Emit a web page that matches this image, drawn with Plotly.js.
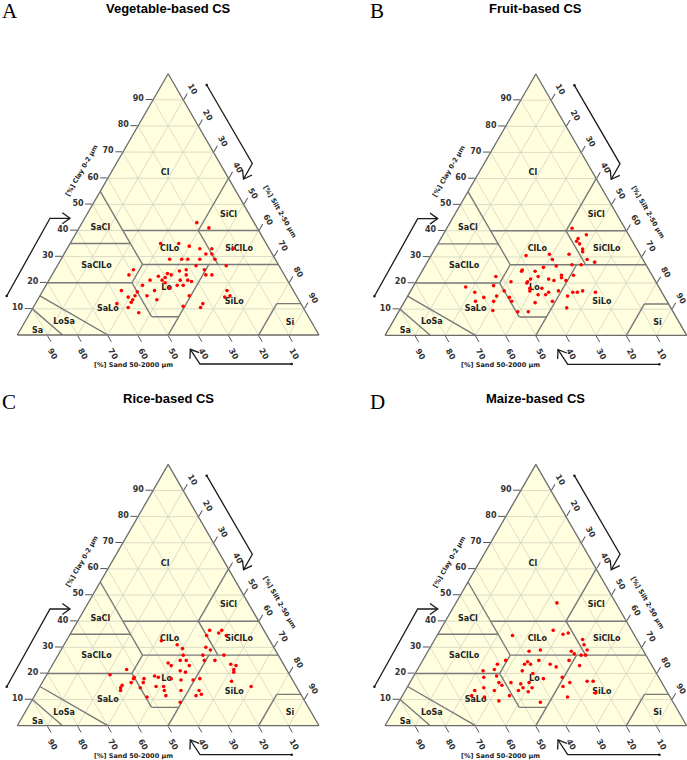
<!DOCTYPE html>
<html><head><meta charset="utf-8">
<script src="https://cdn.plot.ly/plotly-3.0.1.min.js"></script>
<style>html,body{margin:0;padding:0;background:#fff}</style>
</head><body><div id="chart" style="width:687px;height:760px"></div>
<script>
// ---------------- data ----------------
const panelTitles = ["Vegetable-based CS", "Fruit-based CS", "Rice-based CS", "Maize-based CS"];
const panelLetters = ["A", "B", "C", "D"];
const tickValues = [10, 20, 30, 40, 50, 60, 70, 80, 90];

// USDA texture classes (label positions, % clay / % silt)
const classNames = ["Cl", "SiCl", "SaCl", "ClLo", "SiClLo", "SaClLo", "Lo", "SiLo", "SaLo", "Si", "LoSa", "Sa"];
const classClay  = [62, 46, 41, 33, 33, 26.5, 18, 12.8, 10, 4.7, 5, 1.5];
const classSilt  = [18, 47, 7, 34, 57, 13, 40.5, 65.5, 25, 88, 13, 6];

// class boundary segments: [[clay, silt], [clay, silt]]
const boundarySegments = [
  [[55, 0], [27, 28]], [[40, 15], [40, 60]], [[35, 0], [35, 20]], [[27, 28], [27, 73]],
  [[20, 0], [20, 28]], [[20, 28], [27, 28]], [[20, 28], [7, 41]], [[7, 41], [7, 50]],
  [[27, 50], [0, 50]], [[60, 40], [40, 40]], [[40, 40], [27, 53]], [[12, 80], [12, 88]],
  [[12, 80], [0, 80]], [[15, 0], [0, 30]], [[10, 0], [0, 15]]
];

// samples: % clay and % silt (sand is the remainder)
const vegClay = [43,41,35,35,34,33,33,31,31,33,29,29,29,29,29,26.5,26.5,25,24.5,25,25,23,23.5,23,23,23,23,22.5,22,21,21,21,21,20.5,19,20,19,19,18,16.5,17,17,15,14.5,15,13.5,15,17,15,14.5,13.5,12.5,12,10.5,11,12,10.5,8.5];
const vegSilt = [38,43,30,36,40,48,44,47,49,55,36,40,42,46,51,46,56,26,41.5,43.5,49.5,25.5,38,39.5,44.5,51,53,35.5,38,33.5,37.5,43.5,46,47.5,32,39,43.5,45.5,41.5,31.5,26,37,31.5,29.5,35.5,39.5,49.5,61,63,61.5,31.5,31.5,27,31.5,49.5,55.5,55.5,36];

const fruitClay = [41,38.5,37,36,35,33,32,31,31,30.5,29,29,28,26.5,27,27,26,25,24.5,24.5,23,22,23,21,22.5,21.5,21.5,21,20.5,22.5,20.5,20,19,18,17,18.5,16.5,18,17,15.5,15.5,16.5,17,16.5,16.5,17,16.5,15,15,14.5,14.5,13,13,13,12.5,13,10.5,9.5,9,9];
const fruitSilt = [41.5,47.5,45.5,45.5,47,49,49.5,45.5,39,31.5,41,52.5,55.5,43.5,48.5,51.5,39.5,33,33,37.5,47,47.5,51,49.5,39.5,37.5,43.5,45.5,31.5,25.5,37,37,26.5,43,31,17.5,21.5,39,39.5,43,45.5,46,49,54,55.5,57,61.5,53,29.5,25.5,34,23.5,29.5,35.5,43.5,49,55,31,39.5,43];

const riceClay = [36.5,36.5,35.5,34.5,34.5,32.5,31,30,29,29.5,27,27,27,25,25,25,25,24,23,23,23.5,23,21.5,20.5,21.5,21,20.5,19.5,19,18.5,18.5,18,18,17.5,17.5,18,17,18,16.5,16.5,15.5,14.5,13.5,14.5,15,15,15,13.5,13.5,13.5,12,11.5,11,11.5,9];
const riceSilt = [45.5,49.5,49,45.5,52,31.5,37.5,47.5,49.5,40,41.5,48,55,41.5,43.5,49.5,53,38,39.5,45.5,59,61,61,61.5,25.5,43.5,45.5,21,36,37.5,29.5,29.5,42,45.5,49.5,51.5,62.5,33,33.5,29.5,27,27,27.5,33.5,38.5,41,70,42,47.5,53.5,55,53.5,37.5,43.5,49.5];

const maizeClay = [47,36.5,35,35.5,34.5,33,31,29,29,28.5,28.5,27.5,27,27,25,25,24.5,23.5,23.5,25,23.5,23.5,22.5,23,21,21.5,21,20,19,18.5,18.5,18,17,17,16.5,16.5,15.5,16.5,16,16.5,14.5,14.5,15,14.5,13.5,13.5,13,13.5,11.5,11,11.5,9.5,9,11,12.5];
const maizeSilt = [33.5,37.5,41.5,43,25,49,50.5,52.5,37,33.5,47.5,49,51.5,53,48.5,38.5,35,36.5,34.5,27.5,25.5,43,45.5,53,22,25.5,35,39,27.5,23.5,49.5,43.5,58.5,60.5,53,29.5,31,33.5,37,39.5,38.5,41.5,51.5,25.5,29.5,37.5,41,23,23,27.5,35.5,33,47,55,63.5];

const sampleClay = [vegClay, fruitClay, riceClay, maizeClay];
const sampleSilt = [vegSilt, fruitSilt, riceSilt, maizeSilt];

// ---------------- layout helpers ----------------
const FW = 687, FH = 760;
const TRI_W = 301.7, TRI_H = TRI_W * Math.sqrt(3) / 2;
const origins = [[17.3, 335], [385, 335.3], [17.3, 725.7], [385, 725.7]]; // bottom-left corner (px)
const ids = ["ternary", "ternary2", "ternary3", "ternary4"];
const sandOf = (cl, si) => cl.map((c, i) => 100 - c - si[i]);

function px(x, y) { return [x / FW, 1 - y / FH]; }

function axisStyle(ang) {
  return {
    title: {text: ""}, tickmode: "array", tickvals: tickValues,
    ticks: "outside", ticklen: 7, tickcolor: "#555", tickwidth: 1,
    tickangle: ang,
    tickfont: {family: "DejaVu Sans", size: 8, color: "#333", weight: "bold"},
    showgrid: true, gridcolor: "#d6d6c4", gridwidth: 0.8,
    showline: true, linecolor: "#6b6b6b", linewidth: 1.3
  };
}

const layout = {
  width: FW, height: FH, margin: {l: 0, r: 0, t: 0, b: 0},
  paper_bgcolor: "#fff", showlegend: false,
  annotations: [], shapes: []
};

const traces = [];

function arrowShapes(pts, dx, dy) {
  const P = pts.map(p => [p[0] + dx, p[1] + dy]);
  const shapes = [];
  let d = "";
  P.forEach((p, i) => { const q = px(p[0], p[1]); d += (i ? " L" : "M") + q[0] + "," + q[1]; });
  shapes.push({type: "path", xref: "paper", yref: "paper", path: d, line: {color: "#1a1a1a", width: 1.3}});
  const tip = P[P.length - 1], prev = P[P.length - 2];
  const ang = Math.atan2(prev[1] - tip[1], prev[0] - tip[0]);
  const L = 9.5, spread = 0.62;
  const a1 = [tip[0] + L * Math.cos(ang + spread), tip[1] + L * Math.sin(ang + spread)];
  const a2 = [tip[0] + L * Math.cos(ang - spread), tip[1] + L * Math.sin(ang - spread)];
  const h = [a1, tip, a2].map(p => px(p[0], p[1]));
  shapes.push({type: "path", xref: "paper", yref: "paper",
    path: "M" + h[0][0] + "," + h[0][1] + " L" + h[1][0] + "," + h[1][1] + " L" + h[2][0] + "," + h[2][1],
    line: {color: "#1a1a1a", width: 1.3}});
  const s = P[0];
  const c0 = px(s[0] - 1.3, s[1] - 1.3), c1 = px(s[0] + 1.3, s[1] + 1.3);
  shapes.push({type: "circle", xref: "paper", yref: "paper", x0: c0[0], y0: c0[1], x1: c1[0], y1: c1[1],
    fillcolor: "#1a1a1a", line: {color: "#1a1a1a", width: 0}});
  return shapes;
}

for (let i = 0; i < 4; i++) {
  const [x0, yb] = origins[i];
  const dx = x0 - 17.3, dy = yb - 335;
  const key = i === 0 ? "ternary" : "ternary" + (i + 1);
  layout[key] = {
    sum: 100, bgcolor: "#FFFFE0",
    domain: {x: [x0 / FW, (x0 + TRI_W) / FW], y: [1 - yb / FH, 1 - (yb - TRI_H) / FH]},
    aaxis: axisStyle(0), baxis: axisStyle(60), caxis: axisStyle(60)
  };
  boundarySegments.forEach(seg => {
    traces.push({
      type: "scatterternary", subplot: ids[i], mode: "lines", hoverinfo: "skip",
      a: seg.map(p => p[0]), c: seg.map(p => p[1]), b: seg.map(p => 100 - p[0] - p[1]),
      line: {color: "#7a7a7a", width: 1.4}, cliponaxis: false
    });
  });
  traces.push({
    type: "scatterternary", subplot: ids[i], mode: "text", hoverinfo: "skip",
    a: classClay, c: classSilt, b: sandOf(classClay, classSilt), text: classNames,
    textposition: "middle center",
    textfont: {family: "DejaVu Sans", size: 8, color: "#222", weight: "bold"}
  });
  traces.push({
    type: "scatterternary", subplot: ids[i], mode: "markers", hoverinfo: "skip",
    a: sampleClay[i], c: sampleSilt[i], b: sandOf(sampleClay[i], sampleSilt[i]),
    marker: {color: "#ff0000", size: 3.6, line: {width: 0}}
  });

  const T = (x, y) => px(x + dx, y + dy);
  let p = T(168, 8);
  layout.annotations.push({xref: "paper", yref: "paper", x: p[0], y: p[1], text: panelTitles[i], showarrow: false,
    xanchor: "center", yanchor: "middle", font: {family: "Liberation Sans", size: 13, color: "#000", weight: "bold"}});
  p = T(1, 11);
  layout.annotations.push({xref: "paper", yref: "paper", x: p[0], y: p[1], text: panelLetters[i], showarrow: false,
    xanchor: "left", yanchor: "middle", borderpad: 0, font: {family: "Liberation Serif", size: 21, color: "#000"}});
  p = T(81.5, 171);
  layout.annotations.push({xref: "paper", yref: "paper", x: p[0], y: p[1], text: "[%] Clay 0-2 μm", showarrow: false,
    textangle: -60, xanchor: "center", yanchor: "middle", font: {family: "DejaVu Sans", size: 6.5, color: "#222", weight: "bold"}});
  p = T(280, 212);
  layout.annotations.push({xref: "paper", yref: "paper", x: p[0], y: p[1], text: "[%] Silt 2-50 μm", showarrow: false,
    textangle: 60, xanchor: "center", yanchor: "middle", font: {family: "DejaVu Sans", size: 6.5, color: "#222", weight: "bold"}});
  p = T(133, 365);
  layout.annotations.push({xref: "paper", yref: "paper", x: p[0], y: p[1], text: "[%] Sand 50-2000 μm", showarrow: false,
    xanchor: "center", yanchor: "middle", font: {family: "DejaVu Sans", size: 6.5, color: "#222", weight: "bold"}});

  layout.shapes.push(...arrowShapes([[6.7, 296], [50, 218.3], [70, 218.3]], dx, dy));
  layout.shapes.push(...arrowShapes([[206.7, 85], [252.3, 163.5], [243.5, 179]], dx, dy));
  layout.shapes.push(...arrowShapes([[291.7, 364], [200, 364], [190.3, 349.3]], dx, dy));
}

Plotly.newPlot("chart", traces, layout, {staticPlot: true, displayModeBar: false});
</script>
</body></html>
